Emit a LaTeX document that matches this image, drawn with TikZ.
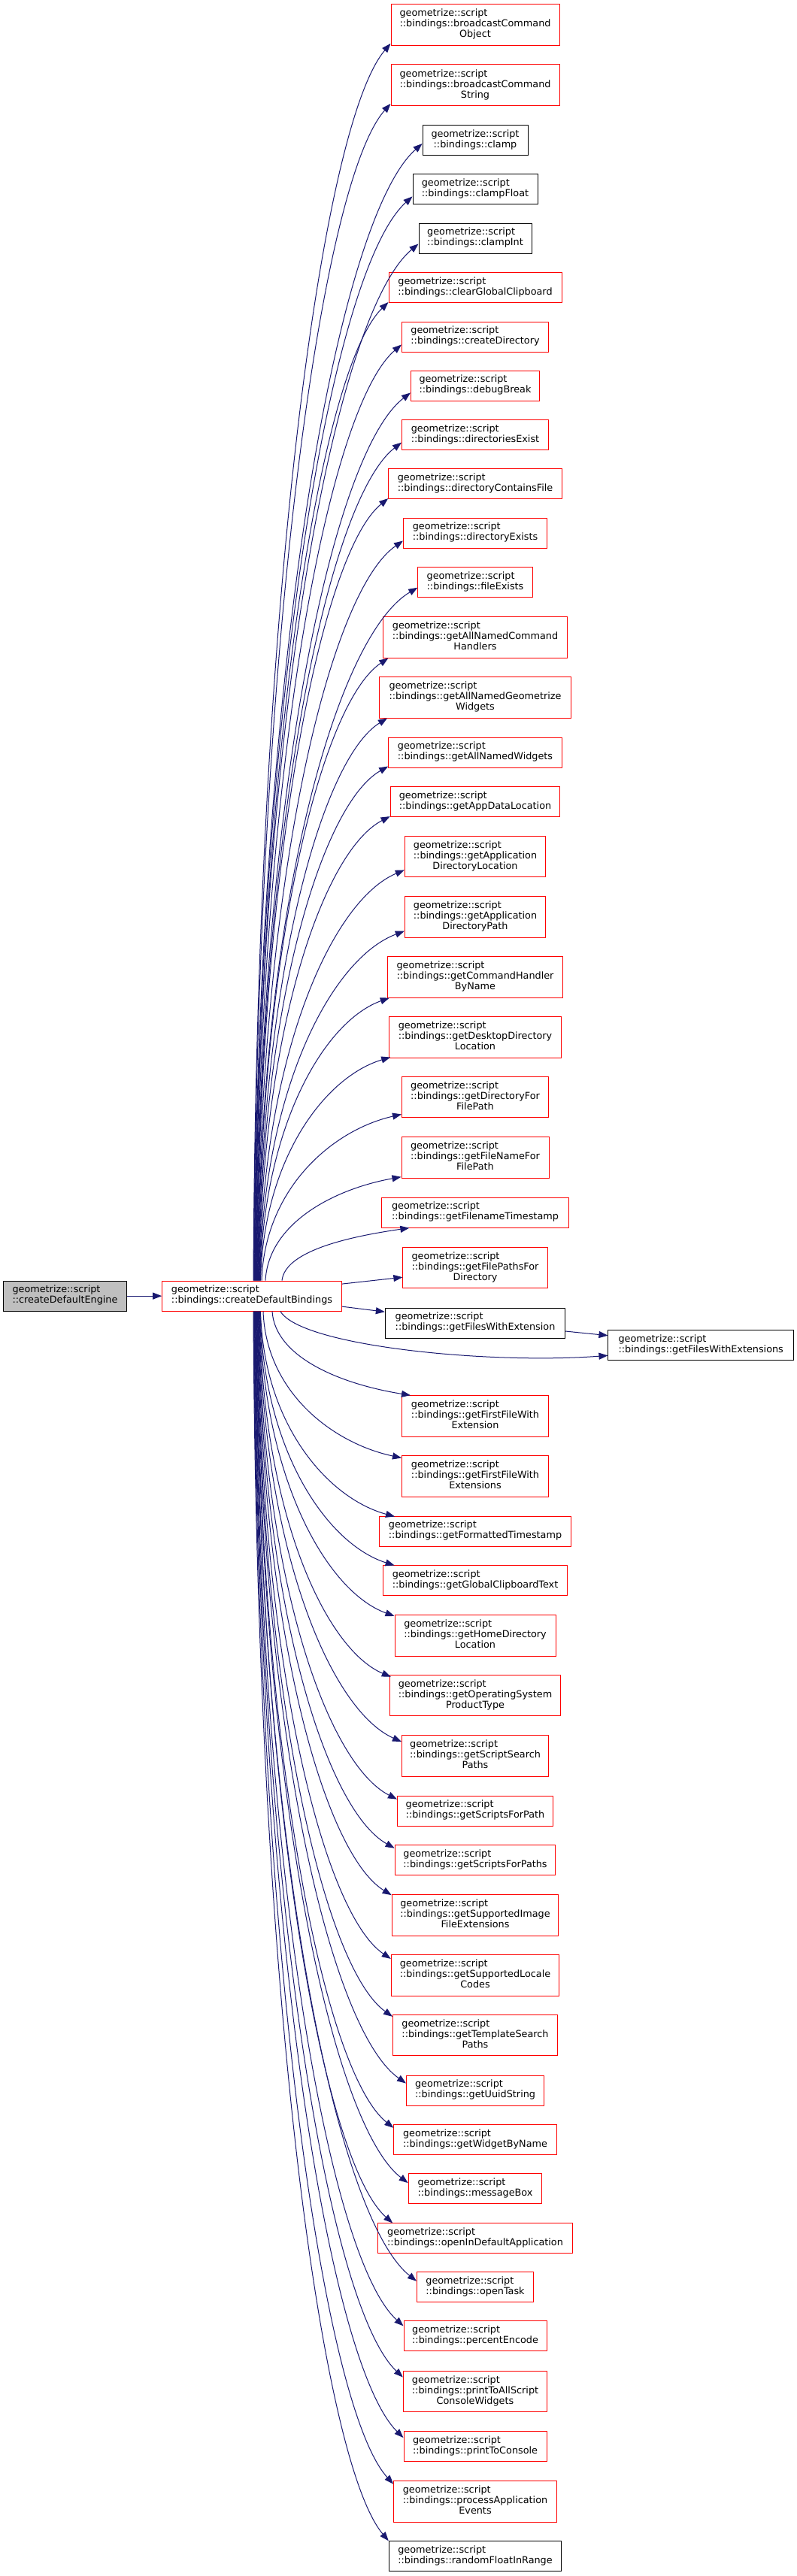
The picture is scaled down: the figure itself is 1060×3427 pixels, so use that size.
\documentclass[tikz,border=0pt]{standalone}
\usepackage{fontspec}
\setmainfont{DejaVu Sans}
\usetikzlibrary{calc,arrows.meta}
\definecolor{edgeblue}{HTML}{191970}
\definecolor{rootgray}{HTML}{BFBFBF}
\newcommand\lbtwo[2]{\begin{tabular}{@{}l@{}}#1\\\multicolumn{1}{@{}c@{}}{#2}\end{tabular}}
\newcommand\lbthree[3]{\begin{tabular}{@{}l@{}}#1\\#2\\\multicolumn{1}{@{}c@{}}{#3}\end{tabular}}
\newcommand\gs{geometrize::script}
\newcommand\eu[4]{\draw[edge] let \p1=([xshift=#4pt]b.north), \p2=([xshift=#2pt,yshift=#3pt]#1.south west) in (\p1) .. controls ($(\p1)+(4pt,{0.55*(\y2-\y1)})$) and ($(\p2)+({-0.5*(\x2-\x1)},{-0.06*(\y2-\y1)-8pt})$) .. (\p2);}
\newcommand\ed[4]{\draw[edge] let \p1=([xshift=#4pt]b.south), \p2=([xshift=#2pt,yshift=-#3pt]#1.north west) in (\p1) .. controls ($(\p1)+(4pt,{0.55*(\y2-\y1)})$) and ($(\p2)+({-0.5*(\x2-\x1)},{-0.06*(\y2-\y1)+8pt})$) .. (\p2);}
\tikzset{
  box/.style={rectangle, draw, line width=1pt, inner sep=0pt, fill=white, text=black,
    font=\fontsize{12.8}{14}\selectfont},
  rbox/.style={box, draw=red},
  kbox/.style={box, draw=black},
  two/.style={minimum height=40pt},
  three/.style={minimum height=54.6pt},
  bw/.style={minimum width=#1pt},
  edge/.style={draw=edgeblue, line width=1pt, -{Triangle[length=12pt,width=9pt]}},
}
\begin{document}
\begin{tikzpicture}[x=1pt,y=-1pt]
\fill[white] (0,0) rectangle (1060,3427);
\useasboundingbox (0,0) rectangle (1060,3427);

\node[kbox, two, bw=163.6, fill=rootgray] (e) at (86.5,1724.1) {\lbtwo{\gs}{::createDefaultEngine}};
\node[rbox, two, bw=238.6] (b) at (335,1724.1) {\lbtwo{\gs}{::bindings::createDefaultBindings}};

\node[rbox, three, bw=224] (n1) at (632,33.1) {\lbthree{\gs}{::bindings::broadcastCommand}{Object}};
\node[rbox, three, bw=224] (n2) at (632,113.2) {\lbthree{\gs}{::bindings::broadcastCommand}{String}};
\node[kbox, two, bw=140] (n3) at (632,186.6) {\lbtwo{\gs}{::bindings::clamp}};
\node[kbox, two, bw=166] (n4) at (632,251.9) {\lbtwo{\gs}{::bindings::clampFloat}};
\node[kbox, two, bw=150] (n5) at (632,317) {\lbtwo{\gs}{::bindings::clampInt}};
\node[rbox, two, bw=230] (n6) at (632,382.5) {\lbtwo{\gs}{::bindings::clearGlobalClipboard}};
\node[rbox, two, bw=195] (n7) at (632,448) {\lbtwo{\gs}{::bindings::createDirectory}};
\node[rbox, two, bw=171] (n8) at (632,513) {\lbtwo{\gs}{::bindings::debugBreak}};
\node[rbox, two, bw=195] (n9) at (632,578.2) {\lbtwo{\gs}{::bindings::directoriesExist}};
\node[rbox, two, bw=230.6] (n10) at (632,643.6) {\lbtwo{\gs}{::bindings::directoryContainsFile}};
\node[rbox, two, bw=191] (n11) at (632,709) {\lbtwo{\gs}{::bindings::directoryExists}};
\node[rbox, two, bw=152.3] (n12) at (632,774.2) {\lbtwo{\gs}{::bindings::fileExists}};
\node[rbox, three, bw=245.7] (n13) at (632,847.8) {\lbthree{\gs}{::bindings::getAllNamedCommand}{Handlers}};
\node[rbox, three, bw=255] (n14) at (632,927.7) {\lbthree{\gs}{::bindings::getAllNamedGeometrize}{Widgets}};
\node[rbox, two, bw=230.6] (n15) at (632,1001) {\lbtwo{\gs}{::bindings::getAllNamedWidgets}};
\node[rbox, two, bw=225.7] (n16) at (632,1066.6) {\lbtwo{\gs}{::bindings::getAppDataLocation}};
\node[rbox, three, bw=187.4] (n17) at (632,1139.6) {\lbthree{\gs}{::bindings::getApplication}{DirectoryLocation}};
\node[rbox, three, bw=187.4] (n18) at (632,1219.9) {\lbthree{\gs}{::bindings::getApplication}{DirectoryPath}};
\node[rbox, three, bw=232.6] (n19) at (632,1299.8) {\lbthree{\gs}{::bindings::getCommandHandler}{ByName}};
\node[rbox, three, bw=228.6] (n20) at (632,1379.7) {\lbthree{\gs}{::bindings::getDesktopDirectory}{Location}};
\node[rbox, three, bw=195] (n21) at (632,1459.6) {\lbthree{\gs}{::bindings::getDirectoryFor}{FilePath}};
\node[rbox, three, bw=196] (n22) at (632,1539.9) {\lbthree{\gs}{::bindings::getFileNameFor}{FilePath}};
\node[rbox, two, bw=248.3] (n23) at (632,1613.1) {\lbtwo{\gs}{::bindings::getFilenameTimestamp}};
\node[rbox, three, bw=192.3] (n24) at (632,1686.4) {\lbthree{\gs}{::bindings::getFilePathsFor}{Directory}};
\node[kbox, two, bw=239.3] (n25) at (632,1760) {\lbtwo{\gs}{::bindings::getFilesWithExtension}};
\node[kbox, two, bw=246.5] (n26) at (932.2,1789.3) {\lbtwo{\gs}{::bindings::getFilesWithExtensions}};
\node[rbox, three, bw=195] (n27) at (632,1884) {\lbthree{\gs}{::bindings::getFirstFileWith}{Extension}};
\node[rbox, three, bw=195] (n28) at (632,1964) {\lbthree{\gs}{::bindings::getFirstFileWith}{Extensions}};
\node[rbox, two, bw=255] (n29) at (632,2037) {\lbtwo{\gs}{::bindings::getFormattedTimestamp}};
\node[rbox, two, bw=245.7] (n30) at (632,2102.5) {\lbtwo{\gs}{::bindings::getGlobalClipboardText}};
\node[rbox, three, bw=214] (n31) at (632,2175.7) {\lbthree{\gs}{::bindings::getHomeDirectory}{Location}};
\node[rbox, three, bw=227.4] (n32) at (632,2255.6) {\lbthree{\gs}{::bindings::getOperatingSystem}{ProductType}};
\node[rbox, three, bw=195] (n33) at (632,2335.9) {\lbthree{\gs}{::bindings::getScriptSearch}{Paths}};
\node[rbox, two, bw=207] (n34) at (632,2409.1) {\lbtwo{\gs}{::bindings::getScriptsForPath}};
\node[rbox, two, bw=213.7] (n35) at (632,2474.2) {\lbtwo{\gs}{::bindings::getScriptsForPaths}};
\node[rbox, three, bw=221.7] (n36) at (632,2547.9) {\lbthree{\gs}{::bindings::getSupportedImage}{FileExtensions}};
\node[rbox, three, bw=223.4] (n37) at (632,2627.7) {\lbthree{\gs}{::bindings::getSupportedLocale}{Codes}};
\node[rbox, three, bw=219] (n38) at (632,2707.6) {\lbthree{\gs}{::bindings::getTemplateSearch}{Paths}};
\node[rbox, two, bw=183] (n39) at (632,2781) {\lbtwo{\gs}{::bindings::getUuidString}};
\node[rbox, two, bw=216.3] (n40) at (632,2846.3) {\lbtwo{\gs}{::bindings::getWidgetByName}};
\node[rbox, two, bw=177.7] (n41) at (632,2911.6) {\lbtwo{\gs}{::bindings::messageBox}};
\node[rbox, two, bw=258.6] (n42) at (632,2977.2) {\lbtwo{\gs}{::bindings::openInDefaultApplication}};
\node[rbox, two, bw=155] (n43) at (632,3042.2) {\lbtwo{\gs}{::bindings::openTask}};
\node[rbox, two, bw=190] (n44) at (632,3107.8) {\lbtwo{\gs}{::bindings::percentEncode}};
\node[rbox, three, bw=191.3] (n45) at (632,3181.3) {\lbthree{\gs}{::bindings::printToAllScript}{ConsoleWidgets}};
\node[rbox, two, bw=190] (n46) at (632,3254.5) {\lbtwo{\gs}{::bindings::printToConsole}};
\node[rbox, three, bw=216.7] (n47) at (632,3327.8) {\lbthree{\gs}{::bindings::processApplication}{Events}};
\node[kbox, two, bw=229.4] (n48) at (632,3400.7) {\lbtwo{\gs}{::bindings::randomFloatInRange}};

\draw[edge] (e) -- (b);

\eu{n1}{0}{3}{2}
\eu{n2}{0}{3}{2.5}
\eu{n3}{0}{16}{3}
\eu{n4}{0}{11}{3.5}
\eu{n5}{0}{13}{4}
\eu{n6}{0}{1}{4.5}
\eu{n7}{0}{10}{5}
\eu{n8}{0}{11}{5.5}
\eu{n9}{0}{10}{6}
\eu{n10}{0}{1}{6.5}
\eu{n11}{0}{10}{7}
\eu{n12}{0}{13}{7.5}
\eu{n13}{7.7}{0}{8}
\eu{n14}{11}{0}{8.5}
\eu{n15}{0}{2}{9}
\eu{n16}{0}{1}{9.5}
\eu{n17}{0}{10}{10}
\eu{n18}{0}{9}{10.5}
\eu{n19}{2.6}{0}{11}
\eu{n20}{2}{1}{11.5}
\eu{n21}{0}{5}{13}
\eu{n22}{0}{2}{18}
\eu{n23}{37}{0}{40}
\draw[edge] ([yshift=16pt]b.east) -- ([yshift=15pt]n24.south west);
\draw[edge] ([yshift=-14pt]b.east) -- ([yshift=-5.7pt]n25.north west);
\draw[edge] ([xshift=38pt]b.south) .. controls +(27,46) and +(-159,12) .. ([yshift=-14pt]n26.west);
\draw[edge] ([yshift=-11pt]n25.east) -- ([yshift=12.6pt]n26.west);
\ed{n27}{12}{0}{27}
\ed{n28}{0}{3.3}{15}
\ed{n29}{21}{1}{11.5}
\ed{n30}{16}{0.5}{11}
\ed{n31}{0}{2}{10.5}
\ed{n32}{2}{3}{10}
\ed{n33}{0}{9}{9.5}
\ed{n34}{0}{5}{9}
\ed{n35}{0}{5}{8.5}
\ed{n36}{0}{1}{8}
\ed{n37}{0}{6}{7.5}
\ed{n38}{0}{3}{7}
\ed{n39}{0}{11}{6.5}
\ed{n40}{0}{5}{6}
\ed{n41}{0}{13}{5.5}
\ed{n42}{20}{0.7}{5}
\ed{n43}{0}{13}{4.5}
\ed{n44}{0}{7}{4}
\ed{n45}{0}{9}{3.5}
\ed{n46}{0}{9}{3}
\ed{n47}{0}{4.6}{2.5}
\ed{n48}{0}{0}{2}
\end{tikzpicture}
\end{document}
